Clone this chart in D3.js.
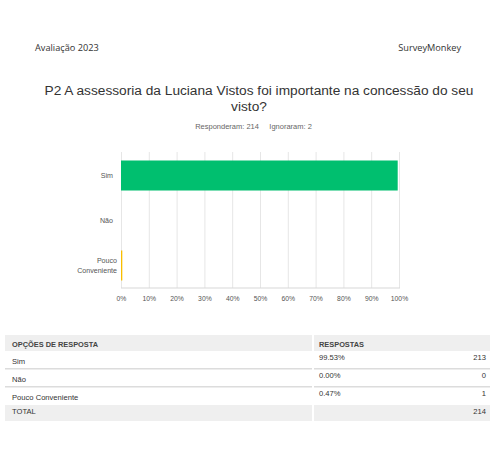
<!DOCTYPE html>
<html><head><meta charset="utf-8">
<script src="https://cdn.jsdelivr.net/npm/d3@7"></script>
<style>body{margin:0;background:#fff}svg{display:block}</style>
</head><body>
<svg id="c" width="496" height="464"></svg>
<script>
const categories = ["Sim", "Não", "Pouco Conveniente"];
const catLines = [["Sim"], ["Não"], ["Pouco", "Conveniente"]];
const percents = [99.53, 0.00, 0.47];
const counts = [213, 0, 1];
const total = 214;
const answered = 214;
const skipped = 2;
const barColors = ["#00bf6f", "#00bf6f", "#f9be00"];
const xTicks = [0, 10, 20, 30, 40, 50, 60, 70, 80, 90, 100];

const svg = d3.select("#c");
const F = "'Liberation Sans', Arial, sans-serif";
const F2 = "'Open Sans', 'DejaVu Sans', sans-serif";

svg.append("text").attr("x", 35).attr("y", 51).attr("font-family", F2).attr("font-size", 9.2).attr("fill", "#333").text("Avaliação 2023");
svg.append("text").attr("x", 461).attr("y", 51).attr("text-anchor", "end").attr("font-family", F2).attr("font-size", 9.2).attr("fill", "#333").text("SurveyMonkey");

svg.append("text").attr("x", 259).attr("y", 95).attr("text-anchor", "middle").attr("font-family", F).attr("font-size", 13.7).attr("fill", "#333").text("P2 A assessoria da Luciana Vistos foi importante na concessão do seu");
svg.append("text").attr("x", 249).attr("y", 111).attr("text-anchor", "middle").attr("font-family", F).attr("font-size", 13.7).attr("fill", "#333").text("visto?");

svg.append("text").attr("x", 253.5).attr("y", 129).attr("text-anchor", "middle").attr("font-family", F).attr("font-size", 7.5).attr("fill", "#666").attr("xml:space", "preserve").text("Responderam: " + answered + "     Ignoraram: " + skipped);

const x = d3.scaleLinear().domain([0, 100]).range([121, 399]);
const y = d3.scaleBand().domain(categories).range([153, 288]).paddingInner(0.333).paddingOuter(0.1665);

// gridlines
svg.append("g").selectAll("line").data(xTicks).join("line")
  .attr("x1", d => x(d) + 0.5).attr("x2", d => x(d) + 0.5)
  .attr("y1", 152).attr("y2", 288).attr("stroke", "#e6e6e6").attr("stroke-width", 1);
svg.append("line").attr("x1", 121).attr("x2", 400).attr("y1", 288).attr("y2", 288).attr("stroke", "#d8d8d8").attr("stroke-width", 1.2);

// bars
svg.append("g").selectAll("rect").data(categories).join("rect")
  .attr("x", x(0)).attr("y", d => y(d))
  .attr("width", (d, i) => Math.max(x(percents[i]) - x(0), 0))
  .attr("height", y.bandwidth())
  .attr("fill", (d, i) => barColors[i]);

// category labels
const cl = svg.append("g").attr("font-family", F).attr("font-size", 7.1).attr("fill", "#555").attr("text-anchor", "end");
categories.forEach((c, i) => {
  const lines = catLines[i];
  const cy = y(c) + y.bandwidth() / 2;
  const ax0 = lines.length > 1 ? 117 : 113;
  lines.forEach((t, j) => {
    cl.append("text").attr("x", ax0).attr("y", cy + 2.5 + (j - (lines.length - 1) / 2) * 9.5).text(t);
  });
});

// x tick labels via axis
const ax = svg.append("g").attr("transform", "translate(0,288)")
  .call(d3.axisBottom(x).tickValues(xTicks).tickFormat(d => d + "%").tickSize(0).tickPadding(8));
ax.select(".domain").remove();
ax.selectAll("text").attr("font-family", F).attr("font-size", 6.8).attr("fill", "#555");

// table
const tX0 = 5, tX1 = 490, colSplit = 312, col2 = 314;
const rowY = [351, 369, 387];
const tg = svg.append("g").attr("font-family", F).attr("font-size", 7.6).attr("fill", "#333");
tg.append("rect").attr("x", tX0).attr("y", 335).attr("width", colSplit - tX0).attr("height", 16).attr("fill", "#efefef");
tg.append("rect").attr("x", col2).attr("y", 335).attr("width", tX1 - col2).attr("height", 16).attr("fill", "#efefef");
tg.append("text").attr("x", 12).attr("y", 346.5).attr("font-weight", "bold").attr("font-size", 7.4).attr("fill", "#444").text("OPÇÕES DE RESPOSTA");
tg.append("text").attr("x", 319).attr("y", 346.5).attr("font-weight", "bold").attr("font-size", 7.4).attr("fill", "#444").text("RESPOSTAS");

categories.forEach((c, i) => {
  const ry = rowY[i];
  tg.append("text").attr("x", 12).attr("y", ry + 12.5).text(c);
  tg.append("text").attr("x", 319).attr("y", ry + 8.5).text(percents[i].toFixed(2) + "%");
  tg.append("text").attr("x", 486).attr("y", ry + 8.5).attr("text-anchor", "end").text(counts[i]);
  if (i < 2) {
    tg.append("rect").attr("x", tX0).attr("y", ry + 17).attr("width", colSplit - tX0).attr("height", 1.5).attr("fill", "#dcdcdc");
    tg.append("rect").attr("x", col2).attr("y", ry + 17).attr("width", tX1 - col2).attr("height", 1.5).attr("fill", "#dcdcdc");
  }
});
tg.append("rect").attr("x", tX0).attr("y", 405).attr("width", colSplit - tX0).attr("height", 16).attr("fill", "#efefef");
tg.append("rect").attr("x", col2).attr("y", 405).attr("width", tX1 - col2).attr("height", 16).attr("fill", "#efefef");
tg.append("text").attr("x", 12).attr("y", 414).text("TOTAL");
tg.append("text").attr("x", 486).attr("y", 414).attr("text-anchor", "end").text(total);
</script>
</body></html>
